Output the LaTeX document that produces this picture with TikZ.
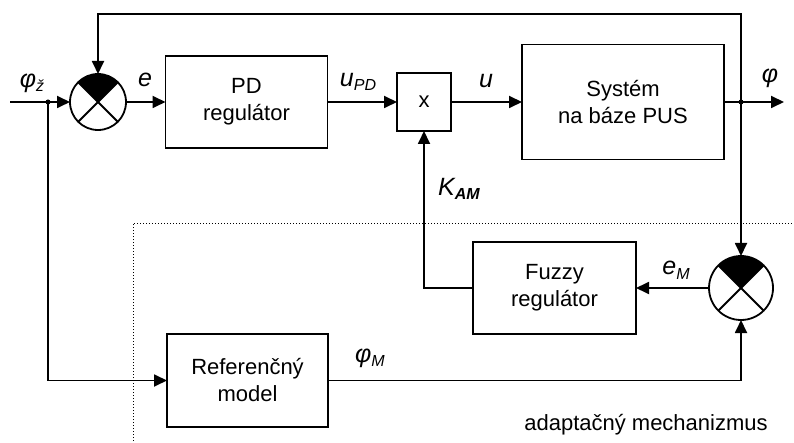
\documentclass[tikz,border=0pt]{standalone}
\usepackage{fontspec}
\setmainfont{Liberation Sans}
\usetikzlibrary{arrows.meta}
\newcommand{\sublab}[2]{#1\raisebox{-0.35ex}{\fontsize{16}{16}\selectfont #2}}
\tikzset{
  blk/.style={draw, line width=1.8pt, align=center, font=\fontsize{22}{27}\selectfont, inner sep=0pt, outer sep=0pt},
  lbl/.style={font=\fontsize{25}{25}\selectfont\itshape, inner sep=0pt},
  sumnode/.style={circle, draw, line width=1.8pt, inner sep=0pt, outer sep=0pt},
  wire/.style={line width=1.8pt},
  conn/.style={line width=1.8pt, -{Triangle[length=13pt,width=12pt]}},
  dotln/.style={line width=0.9pt, dash pattern=on 1.3pt off 1.7pt}
}
\begin{document}
\begin{tikzpicture}[x=1pt,y=1pt]
\useasboundingbox (0,0) rectangle (794,-443);
% blocks
\node[sumnode, minimum size=56pt] (s1) at (98,-102) {};
\node[blk, minimum width=162pt, minimum height=92pt] (pd) at (246.5,-102) {PD\\regulátor};
\node[blk, minimum width=54pt, minimum height=58pt] (mul) at (424,-102) {x};
\node[blk, minimum width=202pt, minimum height=115pt] (sys) at (623,-102) {Systém\\na báze PUS};
\node[sumnode, minimum size=64pt] (s2) at (741,-288) {};
\node[blk, minimum width=163pt, minimum height=92pt] (fz) at (554.5,-288) {Fuzzy\\regulátor};
\node[blk, minimum width=161pt, minimum height=93pt] (ref) at (247.5,-380.5) {Referenčný\\model};
% summing junction decorations
\fill (s1.center) -- (s1.135) arc[start angle=135,end angle=45,radius=28pt] -- cycle;
\draw[wire] (s1.45) -- (s1.225) (s1.135) -- (s1.315);
\fill (s2.center) -- (s2.135) arc[start angle=135,end angle=45,radius=32pt] -- cycle;
\draw[wire] (s2.45) -- (s2.225) (s2.135) -- (s2.315);
% coordinates
\coordinate (in) at (10,-102);
\coordinate (j1) at (48,-102);
\coordinate (j2) at (741,-102);
\coordinate (out) at (784,-102);
\coordinate (top) at (741,-14);
% connectors
\draw[conn] (in) -- (s1.west);
\draw[conn] (s1.east) -- (pd.west);
\draw[conn] (pd.east) -- (mul.west);
\draw[conn] (mul.east) -- (sys.west);
\draw[conn] (sys.east) -- (out);
\draw[conn] (j2) -- (top) -| (s1.north);
\draw[conn] (j2) -- (s2.north);
\draw[conn] (j1) |- (ref.west);
\draw[conn] (ref.east) -| (s2.south);
\draw[conn] (s2.west) -- (fz.east);
\draw[conn] (fz.west) -| (mul.south);
\fill (j1) circle (2.5pt);
\fill (j2) circle (2.5pt);
% dotted boundary
\coordinate (d1) at (133,-441);
\coordinate (d2) at (133,-223);
\coordinate (d3) at (794,-223);
\draw[dotln] (d1) -- (d2) -- (d3);
% labels
\node[lbl] (lphi) at (32,-83) {\sublab{φ}{ž}};
\node[lbl] (le) at (145,-80) {e};
\node[lbl] (lupd) at (358,-82) {\sublab{u}{PD}};
\node[lbl] (lu) at (486,-81) {u};
\node[lbl] (lphio) at (770,-78) {φ};
\node[lbl] (lkam) at (459,-189) {\sublab{K}{\bfseries AM}};
\node[lbl] (lem) at (676,-270) {\sublab{e}{M}};
\node[lbl] (lphim) at (370,-358) {\sublab{φ}{M}};
\node[font=\fontsize{22}{22}\selectfont, inner sep=0pt] (adm) at (646,-425) {adaptačný mechanizmus};
\end{tikzpicture}
\end{document}
